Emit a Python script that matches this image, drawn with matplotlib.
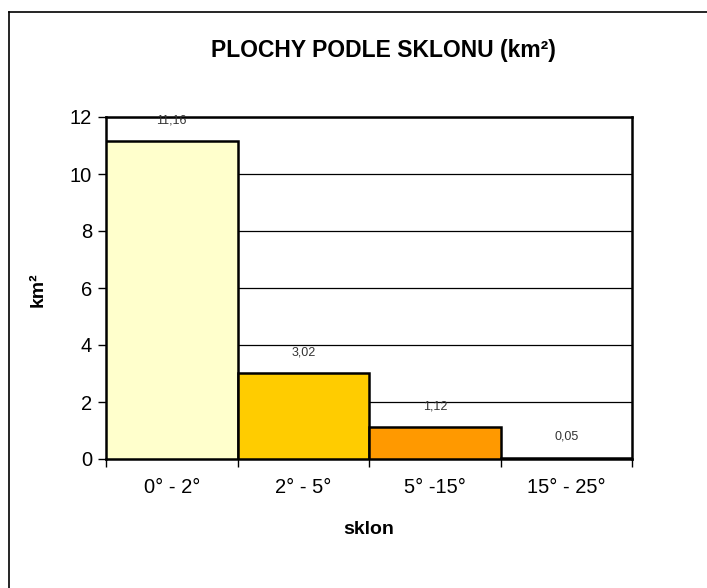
import numpy as np
import matplotlib
matplotlib.use('Agg')
import matplotlib.pyplot as plt
from matplotlib.lines import Line2D

# data
categories = ['0° - 2°', '2° - 5°', '5° -15°', '15° - 25°']
areas = [11.16, 3.02, 1.12, 0.05]
value_labels = ['11,16', '3,02', '1,12', '0,05']
bar_colors = ['#FFFFCC', '#FFCC00', '#FF9900', '#993300']

plt.rcParams['font.family'] = ['Liberation Sans', 'DejaVu Sans']

fig = plt.figure(figsize=(7.07, 5.88), dpi=100)
W, H = 707, 588
ax = fig.add_axes([106 / W, 1 - 459 / H, (632 - 106) / W, (459 - 117) / H])

x = np.arange(len(categories))
ax.bar(x + 0.5, areas, width=1.0, color=bar_colors, edgecolor='black',
       linewidth=1.8, zorder=3)

for xi, v, lab in zip(x, areas, value_labels):
    ax.annotate(lab, (xi + 0.5, v), xytext=(0, 15), textcoords='offset points',
                ha='center', va='center', fontsize=9, color='#333333')

ax.set_xlim(0, len(categories))
ax.set_ylim(0, 12)
ax.set_yticks(np.arange(0, 13, 2))
ax.set_yticklabels([str(t) for t in range(0, 13, 2)], fontsize=14.5)
ax.yaxis.grid(True, color='black', linewidth=0.9)
ax.set_axisbelow(True)

ax.set_xticks(np.arange(0, len(categories) + 1))
ax.set_xticklabels([])
ax.set_xticks(x + 0.5, minor=True)
ax.set_xticklabels(categories, minor=True, fontsize=14.5)
ax.tick_params(axis='x', which='minor', length=0, pad=14)
ax.tick_params(axis='x', which='major', length=6, width=1, direction='out')
ax.tick_params(axis='y', length=6, width=1, direction='out', pad=4)

for s in ax.spines.values():
    s.set_linewidth(1.8)

fig.text(383 / W, 1 - 51 / H, 'PLOCHY PODLE SKLONU (km²)', ha='center',
         va='center', fontsize=16.5, fontweight='bold')
fig.text(369 / W, 1 - 530 / H, 'sklon', ha='center', va='center',
         fontsize=14, fontweight='bold')
fig.text(38 / W, 1 - 290 / H, 'km²', ha='center', va='center',
         fontsize=14, fontweight='bold', rotation=90)

# outer chart frame (top and left edges visible)
fig.add_artist(Line2D([9 / W, 1], [1 - 12 / H, 1 - 12 / H], color='black',
                      linewidth=1.2, transform=fig.transFigure))
fig.add_artist(Line2D([9 / W, 9 / W], [0, 1 - 12 / H], color='black',
                      linewidth=1.2, transform=fig.transFigure))

fig.savefig('out.png', dpi=100)
